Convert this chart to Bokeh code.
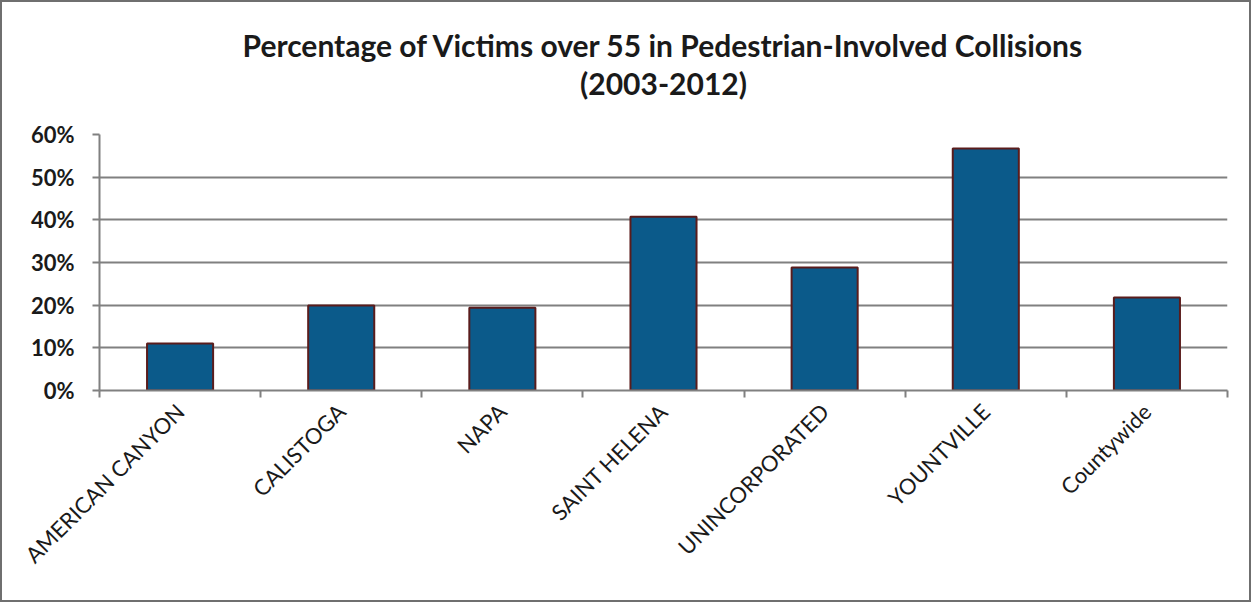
import math
from bokeh.plotting import figure
from bokeh.models import Range1d, NumeralTickFormatter, Title, FixedTicker
from bokeh.embed import file_html
from bokeh.resources import INLINE

categories = ["AMERICAN CANYON", "CALISTOGA", "NAPA", "SAINT HELENA",
              "UNINCORPORATED", "YOUNTVILLE", "Countywide"]
values = [0.110, 0.199, 0.194, 0.407, 0.288, 0.567, 0.218]
y_ticks = [0, 0.1, 0.2, 0.3, 0.4, 0.5, 0.6]

FONT = "Lato"
n = len(categories)
xpos = [i + 0.5 for i in range(n)]

p = figure(x_range=Range1d(0, n), y_range=Range1d(0, 0.6),
           width=1251, height=602, output_backend="svg", toolbar_location=None,
           min_border_left=97, min_border_right=26, min_border_top=132, min_border_bottom=214)
p.styles = {"border": "2px solid #6f6f6f"}

p.title = None
p.add_layout(Title(text=" ", align="center", text_font=FONT, text_font_size="26px",
                   standoff=0), "above")
p.add_layout(Title(text="(2003-2012)", align="center", text_font=FONT, text_font_size="30px",
                   text_font_style="bold", text_color="#1a1a1a", standoff=0), "above")
p.add_layout(Title(text="Percentage of Victims over 55 in Pedestrian-Involved Collisions",
                   align="center", text_font=FONT, text_font_size="30px",
                   text_font_style="bold", text_color="#1a1a1a", standoff=0), "above")

p.vbar(x=xpos, top=values, width=0.41, fill_color="#0b5a8a",
       line_color="#5a1c1c", line_width=2)

p.outline_line_color = None
p.background_fill_color = "white"
p.border_fill_color = "white"

p.ygrid.ticker = y_ticks
p.ygrid.grid_line_color = "#808080"
p.ygrid.grid_line_width = 2
p.xgrid.grid_line_color = None

p.yaxis.ticker = y_ticks
p.yaxis.formatter = NumeralTickFormatter(format="0%")
p.yaxis.major_label_text_font = FONT
p.yaxis.major_label_text_font_size = "22px"
p.yaxis.major_label_text_font_style = "bold"
p.yaxis.major_label_text_color = "#1a1a1a"
p.yaxis.axis_line_color = "#808080"
p.yaxis.axis_line_width = 2
p.yaxis.major_tick_line_color = "#808080"
p.yaxis.major_tick_line_width = 2
p.yaxis.major_tick_out = 7
p.yaxis.major_tick_in = 0
p.yaxis.minor_tick_line_color = None
p.yaxis.major_label_standoff = 18

p.xaxis.ticker = FixedTicker(ticks=xpos, minor_ticks=list(range(n + 1)))
p.xaxis.major_label_overrides = {x: c for x, c in zip(xpos, categories)}
p.xaxis.major_label_orientation = math.pi / 4
p.xaxis.major_label_text_font = FONT
p.xaxis.major_label_text_font_size = "22px"
p.xaxis.major_label_text_color = "#1a1a1a"
p.xaxis.axis_line_color = "#808080"
p.xaxis.axis_line_width = 2
p.xaxis.major_tick_line_color = None
p.xaxis.minor_tick_line_color = "#808080"
p.xaxis.minor_tick_line_width = 2
p.xaxis.minor_tick_out = 7
p.xaxis.minor_tick_in = 0
p.xaxis.major_label_standoff = 10

open("out.html", "w").write(file_html(p, INLINE))
